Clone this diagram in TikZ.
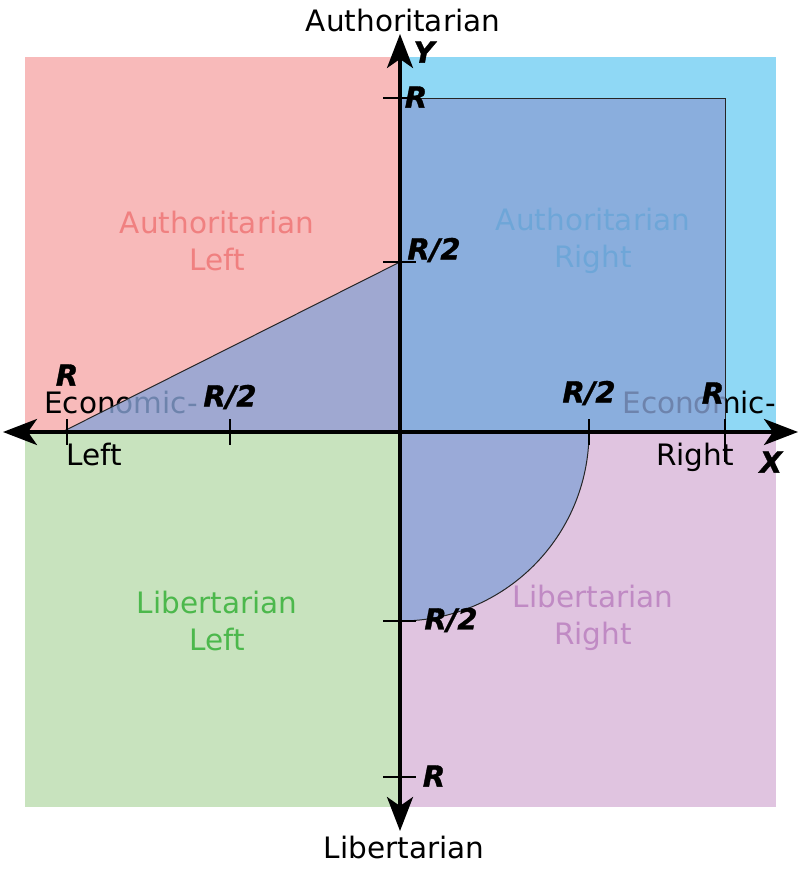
\documentclass[tikz,border=0pt]{standalone}
\usepackage{fontspec}
\setmainfont{DejaVu Sans}
\newfontfamily\rlabfont{DejaVu Sans Bold Oblique}[FakeBold=1.2]
\usetikzlibrary{arrows.meta}
\definecolor{pinkbg}{RGB}{248,186,186}
\definecolor{bluebg}{RGB}{143,216,245}
\definecolor{greenbg}{RGB}{200,227,190}
\definecolor{purplebg}{RGB}{224,196,224}
\definecolor{overlaycol}{RGB}{137,164,215}
\definecolor{altext}{RGB}{240,128,128}
\definecolor{artext}{RGB}{5,175,220}
\definecolor{lltext}{RGB}{76,184,76}
\definecolor{lrtext}{RGB}{192,138,196}
\begin{document}
\begin{tikzpicture}[x=1pt,y=-1pt,
  lbl/.style={font=\fontsize{29.5}{37}\selectfont, inner sep=0pt, align=center},
  rlbl/.style={font=\fontsize{29}{30}\selectfont\rlabfont, inner sep=0pt},
  shadebox/.style={fill=overlaycol, fill opacity=0.8, draw=black!85, line width=1pt},
  axisline/.style={line width=3.5pt, {Stealth[length=34pt,width=26pt,inset=9pt]}-{Stealth[length=34pt,width=26pt,inset=9pt]}},
  tickline/.style={line width=1.2pt}]
\useasboundingbox (0,0) rectangle (800,871);
% quadrants
\fill[pinkbg] (25,57) rectangle (400,432);
\fill[bluebg] (400,57) rectangle (776,432);
\fill[greenbg] (25,432) rectangle (400,807);
\fill[purplebg] (400,432) rectangle (776,807);
% quadrant labels
\node[lbl, text=altext] (al) at (217,241) {Authoritarian\\Left};
\node[lbl, text=artext] (ar) at (593,241) {Authoritarian\\Right};
\node[lbl, text=lltext] (ll) at (217,621) {Libertarian\\Left};
\node[lbl, text=lrtext] (lr) at (593,618) {Libertarian\\Right};
% economic labels
\node[lbl, anchor=west] (ecl) at (44,402) {Economic-};
\node[lbl, anchor=west] (left) at (66,454) {Left};
\node[lbl, anchor=east] (ecr) at (776,402) {Economic-};
\node[lbl, anchor=west] (right) at (656,457) {Right};
% overlays
\draw[shadebox] (400,98) rectangle (725,432);
\draw[shadebox] (62,432) -- (400,432) -- (400,262) -- cycle;
\draw[shadebox] (400,432) -- (589,432) .. controls (589,536.4) and (504.4,621) .. (400,621) -- cycle;
% ticks
\draw[tickline] (67,419) -- (67,445);
\draw[tickline] (230,419) -- (230,445);
\draw[tickline] (589,419) -- (589,445);
\draw[tickline] (725,419) -- (725,462);
\draw[tickline] (383,98) -- (416,98);
\draw[tickline] (383,262) -- (416,262);
\draw[tickline] (383,621) -- (416,621);
\draw[tickline] (383,777) -- (416,777);
% axes
\coordinate (xl) at (3,432);
\coordinate (xr) at (798,432);
\coordinate (yt) at (400,34);
\coordinate (yb) at (400,831);
\draw[axisline] (xl) -- (xr);
\draw[axisline] (yb) -- (yt);
% R labels
\node[rlbl] (rxl) at (67,375) {R};
\node[rlbl] (rxl2) at (230,397) {R/2};
\node[rlbl] (rxr2) at (589,393) {R/2};
\node[rlbl] (rxr) at (713,393) {R};
\node[rlbl] (ryt) at (416,97) {R};
\node[rlbl] (ryt2) at (434,250) {R/2};
\node[rlbl] (ryb2) at (451,620) {R/2};
\node[rlbl] (ryb) at (434,776) {R};
\node[rlbl] (ylab) at (424,52) {Y};
\node[rlbl] (xlab) at (771,462) {X};
% axis titles
\node[lbl] (auth) at (403,20) {Authoritarian};
\node[lbl] (lib) at (404,847) {Libertarian};
\end{tikzpicture}
\end{document}
